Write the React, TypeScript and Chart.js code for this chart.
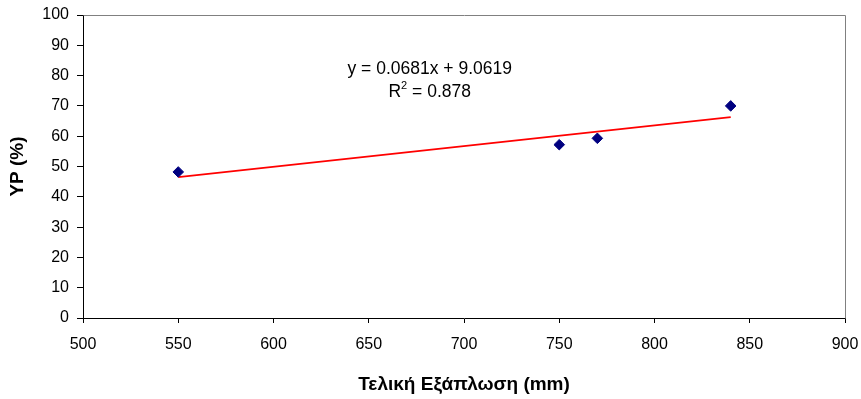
import React, { useEffect, useRef } from "react";
import { Chart, registerables } from "chart.js";

Chart.register(...registerables);

const spreadMm = [550, 750, 770, 840];
const ypPercent = [48.2, 57.2, 59.3, 70.0];
const trendX = [550, 840];
const trendY = [46.5, 66.3];
const xTicks = [500, 550, 600, 650, 700, 750, 800, 850, 900];
const yTicks = [0, 10, 20, 30, 40, 50, 60, 70, 80, 90, 100];
const equationText = "y = 0.0681x + 9.0619";
const r2Value = "0.878";
const xTitle = "Τελική Εξάπλωση (mm)";
const yTitle = "YP (%)";

const FONT = "'Liberation Sans', Arial, sans-serif";

const framePlugin = {
  id: "frameAndLabel",
  afterDraw(chart: any) {
    const { ctx, chartArea } = chart;
    const { left, right, top, bottom } = chartArea;
    ctx.save();
    ctx.strokeStyle = "#808080";
    ctx.lineWidth = 1;
    ctx.beginPath();
    ctx.moveTo(Math.round(left) + 0.5, Math.round(top) + 0.5);
    ctx.lineTo(Math.round(right) + 0.5, Math.round(top) + 0.5);
    ctx.lineTo(Math.round(right) + 0.5, Math.round(bottom) + 0.5);
    ctx.stroke();

    // regression label
    const cx = left + (right - left) * 0.455;
    ctx.fillStyle = "#000";
    ctx.textBaseline = "middle";
    ctx.font = `17.5px ${FONT}`;
    ctx.textAlign = "center";
    ctx.fillText(equationText, cx, top + 54);

    const y2 = top + 77;
    const partR = "R";
    const partRest = " = " + r2Value;
    ctx.font = `17.5px ${FONT}`;
    const wR = ctx.measureText(partR).width;
    const wRest = ctx.measureText(partRest).width;
    ctx.font = `11px ${FONT}`;
    const wSup = ctx.measureText("2").width;
    const total = wR + wSup + wRest;
    let x0 = cx - total / 2;
    ctx.textAlign = "left";
    ctx.font = `17.5px ${FONT}`;
    ctx.fillText(partR, x0, y2);
    x0 += wR;
    ctx.font = `11px ${FONT}`;
    ctx.fillText("2", x0, y2 - 6);
    x0 += wSup;
    ctx.font = `17.5px ${FONT}`;
    ctx.fillText(partRest, x0, y2);
    ctx.restore();
  },
};

export default function App() {
  const ref = useRef<HTMLCanvasElement | null>(null);
  useEffect(() => {
    const prevMargin = document.body.style.margin;
    document.body.style.margin = "0";
    const canvas = ref.current!;
    const chart = new Chart(canvas, {
      type: "scatter",
      data: {
        datasets: [
          {
            type: "line",
            label: "trend",
            data: trendX.map((x, i) => ({ x, y: trendY[i] })),
            borderColor: "#ff0000",
            borderWidth: 1.6,
            pointRadius: 0,
            fill: false,
            order: 2,
          },
          {
            label: "YP",
            data: spreadMm.map((x, i) => ({ x, y: ypPercent[i] })),
            backgroundColor: "#000080",
            borderColor: "#000080",
            borderWidth: 1,
            pointStyle: "rectRot",
            pointRadius: 5.3,
            order: 1,
          },
        ],
      },
      options: {
        responsive: false,
        animation: false,
        devicePixelRatio: 1,
        layout: { padding: { left: 0, right: 16, top: 15, bottom: 0 } },
        plugins: {
          legend: { display: false },
          tooltip: { enabled: false },
        },
        scales: {
          x: {
            type: "linear",
            min: 500,
            max: 900,
            afterBuildTicks: (s: any) => {
              s.ticks = xTicks.map((v) => ({ value: v }));
            },
            afterFit: (s: any) => {
              s.height = 81;
              s.paddingLeft = 0;
              s.paddingRight = 0;
            },
            grid: {
              display: true,
              drawOnChartArea: false,
              drawTicks: true,
              tickLength: 5,
              color: "#000",
            },
            border: { display: true, color: "#000", width: 1 },
            ticks: {
              color: "#000",
              padding: 12,
              maxRotation: 0,
              font: { family: FONT, size: 16 },
            },
            title: {
              display: true,
              text: xTitle,
              color: "#000",
              font: { family: FONT, size: 19, weight: "bold" },
              padding: { top: 0, bottom: 2.6 },
            },
          },
          y: {
            type: "linear",
            min: 0,
            max: 100,
            afterBuildTicks: (s: any) => {
              s.ticks = yTicks.map((v) => ({ value: v }));
            },
            afterFit: (s: any) => {
              s.width = 83;
              s.paddingTop = 0;
              s.paddingBottom = 0;
            },
            grid: {
              display: true,
              drawOnChartArea: false,
              drawTicks: true,
              tickLength: 6,
              color: "#000",
            },
            border: { display: true, color: "#000", width: 1 },
            ticks: {
              color: "#000",
              padding: 8,
              font: { family: FONT, size: 16 },
            },
            title: {
              display: true,
              text: yTitle,
              color: "#000",
              font: { family: FONT, size: 19, weight: "bold" },
              padding: { top: 6.6, bottom: 0 },
            },
          },
        },
      },
      plugins: [framePlugin],
    } as any);
    return () => {
      chart.destroy();
      document.body.style.margin = prevMargin;
    };
  }, []);
  return (
    <div style={{ position: "fixed", left: 0, top: 0, width: 861, height: 399, background: "#fff" }}>
      <canvas ref={ref} width={861} height={399} style={{ display: "block" }} />
    </div>
  );
}
